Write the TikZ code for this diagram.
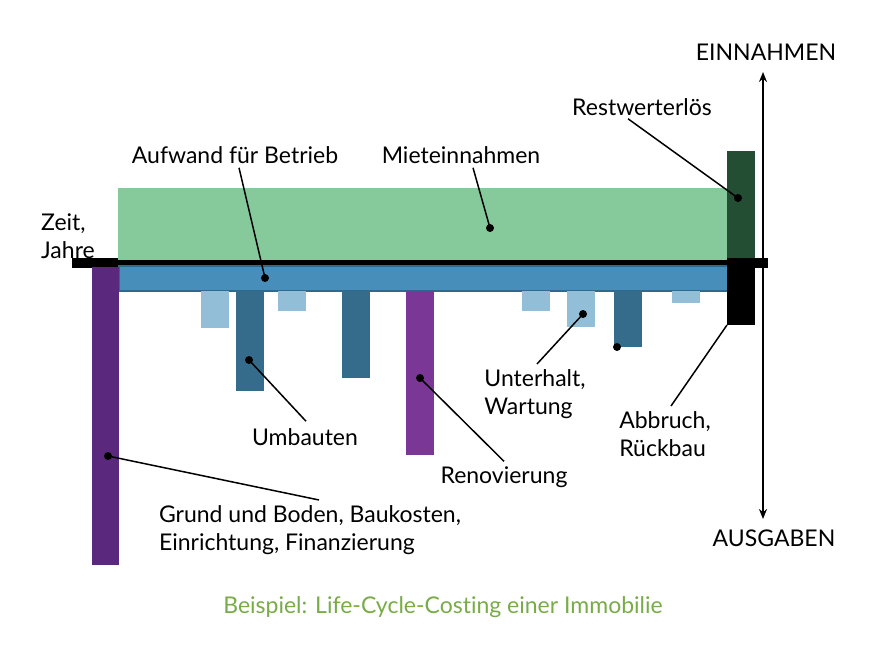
\documentclass[tikz,border=0pt]{standalone}
\usepackage{fontspec}
\setmainfont{Lato}[Ligatures={NoCommon,NoContextual}, RawFeature={-dlig;-calt;-liga}]
\usetikzlibrary{arrows.meta, positioning, calc}
\definecolor{mieteGreen}{HTML}{86CA9C}
\definecolor{restGreen}{HTML}{234E33}
\definecolor{betriebBlue}{HTML}{478FBA}
\definecolor{betriebEdge}{HTML}{2F6A8C}
\definecolor{lightBlue}{HTML}{92BED8}
\definecolor{darkBlue}{HTML}{356C8C}
\definecolor{darkPurple}{HTML}{5A287C}
\definecolor{renovPurple}{HTML}{7A3795}
\definecolor{capGreen}{HTML}{78AC47}
\tikzset{
    font=\fontsize{23}{28.5}\selectfont,
    >=Stealth,
    % Bars
    bar/.style={rectangle, inner sep=0pt, outer sep=0pt, anchor=north west, draw=none},
    small/.style={bar, fill=lightBlue, minimum width=28pt},
    umbau/.style={bar, fill=darkBlue, minimum width=28pt},
    % Labels & leaders
    lbl/.style={align=left, inner sep=1pt},
    lead/.style={line width=1.5pt},
    dot/.style={circle, fill=black, inner sep=0pt, minimum size=8pt}
}
\begin{document}
\begin{tikzpicture}[x=1pt, y=-1pt]
\useasboundingbox (0,0) rectangle (880,647);

% time axis and income / costs
\node[bar, fill=black, minimum width=696pt, minimum height=10pt] (axis) at (72,258) {};
\node[bar, fill=mieteGreen, minimum width=610pt, minimum height=72pt] (miete) at (118,188) {};
\node[bar, fill=betriebBlue, draw=betriebEdge, line width=2pt,
      minimum width=610pt, minimum height=25pt] (betrieb) at (119,266) {};
\node[bar, fill=darkPurple, minimum width=27pt, minimum height=298pt] (grund) at (92,267) {};
\node[bar, fill=restGreen, minimum width=28pt, minimum height=107pt] (rest) at (727,151) {};
\node[bar, fill=black, minimum width=28pt, minimum height=67pt] (abbruch) at (727,258) {};

% maintenance and conversions
\node[small, minimum height=37pt] (w1) at (201,291) {};
\node[small, minimum height=20pt] (w2) at (278,291) {};
\node[umbau, minimum height=100pt] (u1) at (236,291) {};
\node[umbau, minimum height=87pt] (u2) at (342,291) {};
\node[bar, fill=renovPurple, minimum width=28pt, minimum height=164pt] (renov) at (406,291) {};
\node[small, minimum height=20pt] (w3) at (522,291) {};
\node[small, minimum height=36pt] (w4) at (567,291) {};
\node[umbau, minimum height=56pt] (u3) at (614,291) {};
\node[small, minimum height=12pt] (w5) at (672,291) {};

% vertical axis
\coordinate (axTop) at (763,72);
\coordinate (axBot) at (763,519);
\draw[<->, line width=2pt, >={Stealth[length=10pt, width=8pt]}] (axBot) -- (axTop);

% labels
\node[lbl] (lEin) at (766,52) {EINNAHMEN};
\node[lbl] (lAus) at (774,538) {AUSGABEN};
\node[lbl] (lRest) at (642,107) {Restwerterlös};
\node[lbl] (lAufwand) at (235,155) {Aufwand für Betrieb};
\node[lbl] (lMiete) at (461,155) {Mieteinnahmen};
\node[lbl, anchor=west] (lZeit) at (40,236) {Zeit,\\Jahre};
\node[lbl] (lUmbau) at (305,437) {Umbauten};
\node[lbl] (lRenov) at (504,477) {Renovierung};
\node[lbl] (lUnter) at (535,394) {Unterhalt,\\Wartung};
\node[lbl] (lAbbr) at (665,434) {Abbruch,\\Rückbau};
\node[lbl] (lGrund) at (310,530) {Grund und Boden, Baukosten,\\Einrichtung, Finanzierung};
\node[lbl, text=capGreen] (lCap) at (443,607) {Beispiel: Life-Cycle-Costing einer Immobilie};

% leader dots
\node[dot] (dAufwand) at (265,278) {};
\node[dot] (dMiete) at (490,228) {};
\node[dot] (dRest) at (738,198) {};
\node[dot] (dUmbau) at (249,360) {};
\node[dot] (dRenov) at (420,378) {};
\node[dot] (dUnter) at (583,314) {};
\node[dot] (dU3) at (617,347) {};
\node[dot] (dGrund) at (108,456) {};

% leaders
\draw[lead] ($(lAufwand.south)+(4,3)$) -- (dAufwand.center);
\draw[lead] ($(lMiete.south)+(12,3)$) -- (dMiete.center);
\draw[lead] ($(lRest.south)+(-14,2)$) -- (dRest.center);
\draw[lead] ($(lUmbau.north)+(1,-6)$) -- (dUmbau.center);
\draw[lead] ($(lRenov.north)+(0,-4)$) -- (dRenov.center);
\draw[lead] ($(lUnter.north)+(2,-4)$) -- (dUnter.center);
\draw[lead] ($(lAbbr.north)+(6,-4)$) -- (abbruch.south west);
\draw[lead] ($(lGrund.north)+(9,-4)$) -- (dGrund.center);

\end{tikzpicture}
\end{document}
